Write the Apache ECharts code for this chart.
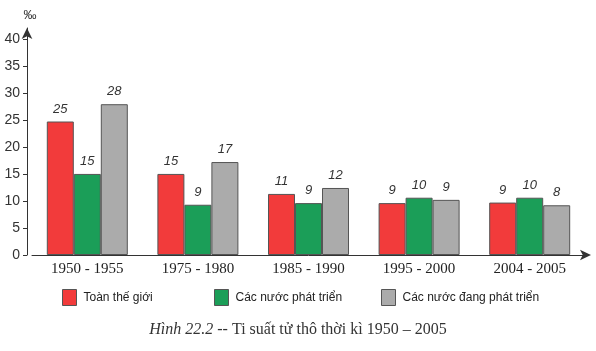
<!DOCTYPE html>
<html>
<head>
<meta charset="utf-8">
<script src="https://cdn.jsdelivr.net/npm/echarts@6/dist/echarts.min.js"></script>
<style>
  html, body { margin: 0; padding: 0; background: #fff; }
  #chart { width: 596px; height: 351px; }
</style>
</head>
<body>
<div id="chart"></div>
<script>
// số liệu
const categories = ['1950 - 1955', '1975 - 1980', '1985 - 1990', '1995 - 2000', '2004 - 2005']
const seriesNames = ['Toàn thế giới', 'Các nước phát triển', 'Các nước đang phát triển']
// chiều cao cột
const worldValues = [24.7, 15.0, 11.3, 9.6, 9.7]
const developedValues = [15.0, 9.3, 9.6, 10.6, 10.6]
const developingValues = [27.9, 17.2, 12.4, 10.2, 9.2]
// số in trên cột
const worldLabels = [25, 15, 11, 9, 9]
const developedLabels = [15, 9, 9, 10, 10]
const developingLabels = [28, 17, 12, 9, 8]
const yTicks = [0, 5, 10, 15, 20, 25, 30, 35, 40]

const colors = ['#f23b3b', '#1b9e58', '#ababab']

const barSeries = (name, values, labels, color) => ({
    name: name,
    type: 'bar',
    barWidth: 27,
    barGap: '0%',
    itemStyle: {
        color: color,
        borderColor: '#555',
        borderWidth: 1
    },
    label: {
        show: true,
        position: 'top',
        distance: 6,
        formatter: p => labels[p.dataIndex],
        fontFamily: 'Liberation Sans',
        fontStyle: 'italic',
        fontSize: 13,
        color: '#333'
    },
    data: values
})

const legendAt = (name, left) => ({
    data: [name],
    left: left,
    top: 289,
    padding: 0,
    icon: 'rect',
    itemWidth: 14,
    itemHeight: 16,
    itemStyle: { borderColor: '#555', borderWidth: 1 },
    textStyle: { fontFamily: 'Liberation Sans', fontSize: 12, color: '#222', padding: [0, 0, 0, 2] }
})

const chart = echarts.init(document.getElementById('chart'))
chart.setOption({
    animation: false,
    title: {
        text: '{i|Hình 22.2} -- Ti suất tử thô thời kì 1950 – 2005',
        left: 'center',
        top: 317,
        textStyle: {
            fontFamily: 'Liberation Serif',
            fontSize: 16,
            fontWeight: 'normal',
            color: '#333',
            rich: {
                i: { fontFamily: 'Liberation Serif', fontStyle: 'italic', fontSize: 16, color: '#333' }
            }
        }
    },
    legend: [
        legendAt(seriesNames[0], 62),
        legendAt(seriesNames[1], 214),
        legendAt(seriesNames[2], 381)
    ],
    grid: {
        top: 28,
        left: 32,
        right: 11,
        bottom: 96
    },
    xAxis: {
        type: 'category',
        data: categories,
        axisLine: {
            show: true,
            symbol: ['none', 'arrow'],
            symbolSize: [8, 11],
            symbolOffset: [0, 6],
            lineStyle: { color: '#333', width: 1 }
        },
        axisTick: { show: false },
        axisLabel: {
            margin: 7,
            fontFamily: 'Liberation Serif',
            fontSize: 15,
            color: '#222'
        }
    },
    yAxis: {
        type: 'value',
        name: '‰',
        nameLocation: 'end',
        nameGap: 6,
        nameTextStyle: { fontFamily: 'Liberation Sans', fontSize: 13, color: '#333', padding: [0, 0, 0, 6] },
        min: 0,
        max: 42,
        offset: 5,
        splitLine: { show: false },
        axisLine: {
            show: true,
            symbol: ['none', 'arrow'],
            symbolSize: [8, 11],
            lineStyle: { color: '#333', width: 1 }
        },
        axisTick: {
            show: true,
            length: 4,
            customValues: yTicks,
            lineStyle: { color: '#333' }
        },
        axisLabel: {
            customValues: yTicks,
            margin: 7,
            fontFamily: 'Liberation Sans',
            fontSize: 14,
            color: '#333'
        }
    },
    series: [
        barSeries(seriesNames[0], worldValues, worldLabels, colors[0]),
        barSeries(seriesNames[1], developedValues, developedLabels, colors[1]),
        barSeries(seriesNames[2], developingValues, developingLabels, colors[2])
    ]
})
</script>
</body>
</html>
